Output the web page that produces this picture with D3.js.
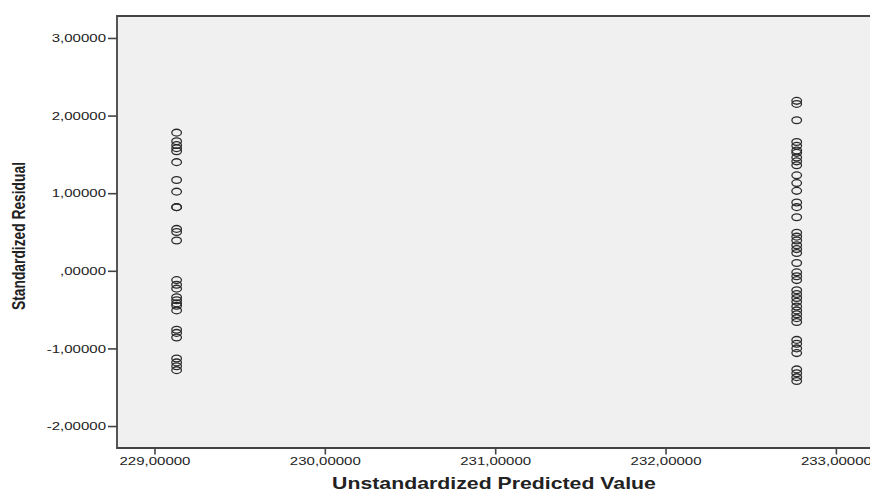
<!DOCTYPE html>
<html>
<head>
<meta charset="utf-8">
<script src="https://cdn.jsdelivr.net/npm/d3@7"></script>
<style>
  body { margin: 0; background: #fff; }
  svg { display: block; }
</style>
</head>
<body>
<script>
// predicted value of each of the two groups
const predicted = [229.13, 232.77]

// standardized residuals, one list per group
const residualsLow = [1.78, 1.67, 1.62, 1.58, 1.54, 1.40, 1.17, 1.02, 0.82, 0.82,
  0.54, 0.50, 0.39, -0.12, -0.18, -0.23, -0.34, -0.38, -0.42, -0.45, -0.51,
  -0.76, -0.80, -0.86, -1.13, -1.18, -1.23, -1.28]
const residualsHigh = [2.19, 2.15, 1.94, 1.66, 1.61, 1.55, 1.52, 1.46, 1.41, 1.36,
  1.23, 1.13, 1.03, 0.88, 0.82, 0.69, 0.49, 0.44, 0.39, 0.33, 0.28, 0.23,
  0.10, -0.02, -0.07, -0.12, -0.25, -0.30, -0.35, -0.40, -0.46, -0.51, -0.56,
  -0.61, -0.66, -0.89, -0.94, -1.00, -1.06, -1.27, -1.32, -1.37, -1.42]

const xTicks = [229, 230, 231, 232, 233]
const yTicks = [-2, -1, 0, 1, 2, 3]

const xTitle = 'Unstandardized Predicted Value'
const yTitle = 'Standardized Residual'

const data = [
  ...residualsLow.map(r => ({pred: predicted[0], res: r})),
  ...residualsHigh.map(r => ({pred: predicted[1], res: r}))
]

const W = 870, H = 491
const stretch = 1.33 // the picture is wider than it is tall
const margin = ({top: 16, left: 117})
const width = 770, height = 432

const svg = d3.select('body').append('svg')
  .attr('width', W)
  .attr('height', H)

const g = svg.append('g')
  .attr('transform', `translate(${margin.left},${margin.top})`)

const xScale = d3.scaleLinear()
  .domain([228.78, 233.3])
  .range([0, width])

const yScale = d3.scaleLinear()
  .domain([-2.283, 3.283])
  .range([height, 0])

// SPSS style numbers: comma decimal, plain hyphen, no leading zero for 0
const spss = d3.formatLocale({decimal: ',', thousands: '.', grouping: [3], currency: ['', ''], minus: '-'})
const fmt = v => (v === 0 ? ',00000' : spss.format('.5f')(v))

g.append('rect')
  .attr('width', width)
  .attr('height', height)
  .attr('fill', '#f0f0f0')

const frameColor = '#444'
g.append('path')
  .attr('d', `M${width},0H0V${height}H${width}`)
  .attr('fill', 'none')
  .attr('stroke', frameColor)
  .attr('stroke-width', 1.8)

const yAxis = d3.axisLeft(yScale)
  .tickValues(yTicks)
  .tickFormat(fmt)
  .tickSize(9)
  .tickPadding(2)

const xAxis = d3.axisBottom(xScale)
  .tickValues(xTicks)
  .tickFormat(fmt)
  .tickSize(6.5)
  .tickPadding(2.5)

g.append('g')
  .attr('class', 'y-axis')
  .call(yAxis)
  .call(a => a.select('.domain').remove())
  .call(a => a.selectAll('.tick line').attr('stroke', frameColor).attr('stroke-width', 1.6))
  .selectAll('.tick text')
  .attr('font-family', 'Liberation Sans, Arial, sans-serif')
  .attr('font-size', 11.3)
  .attr('fill', '#222')
  .attr('x', -11 / stretch)
  .attr('transform', `scale(${stretch},1)`)

g.append('g')
  .attr('class', 'x-axis')
  .attr('transform', `translate(0,${height})`)
  .call(xAxis)
  .call(a => a.select('.domain').remove())
  .call(a => a.selectAll('.tick line').attr('stroke', frameColor).attr('stroke-width', 1.6))
  .selectAll('.tick text')
  .attr('font-family', 'Liberation Sans, Arial, sans-serif')
  .attr('font-size', 11.3)
  .attr('fill', '#222')
  .attr('transform', `scale(${stretch},1)`)

// points
g.append('g')
  .attr('fill', 'none')
  .attr('stroke', '#2a2a2a')
  .attr('stroke-width', 1.3)
  .selectAll('ellipse')
  .data(data)
  .join('ellipse')
  .attr('cx', d => xScale(d.pred))
  .attr('cy', d => yScale(d.res))
  .attr('rx', 4.8)
  .attr('ry', 3.4)

// axis titles
svg.append('text')
  .attr('transform', `translate(494,489) scale(${stretch},1)`)
  .attr('text-anchor', 'middle')
  .attr('font-family', 'Liberation Sans, Arial, sans-serif')
  .attr('font-weight', 'bold')
  .attr('font-size', 16)
  .attr('fill', '#222')
  .text(xTitle)

svg.append('text')
  .attr('transform', `translate(25,236) scale(1.3,1) rotate(-90)`)
  .attr('text-anchor', 'middle')
  .attr('font-family', 'Liberation Sans, Arial, sans-serif')
  .attr('font-weight', 'bold')
  .attr('font-size', 13.8)
  .attr('fill', '#222')
  .text(yTitle)
</script>
</body>
</html>
